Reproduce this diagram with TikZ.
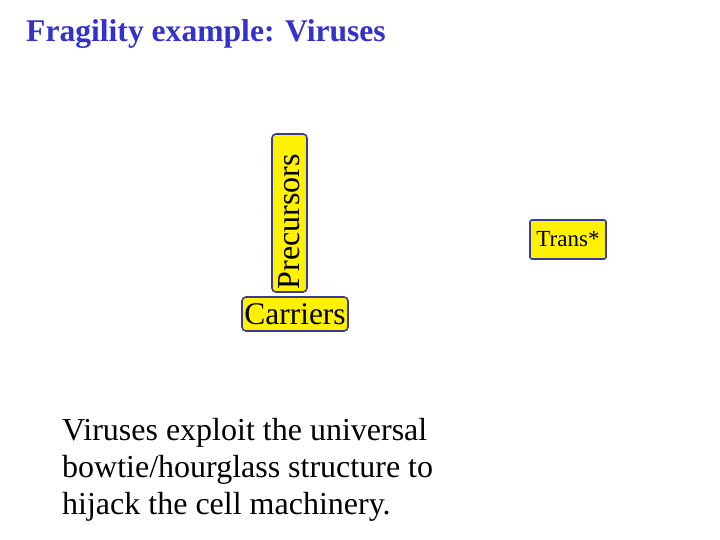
\documentclass[tikz,border=0pt]{standalone}
\usepackage{fontspec}
\setmainfont{Liberation Serif}
\definecolor{titleblue}{HTML}{3333CC}
\definecolor{boxline}{HTML}{3B3B8F}
\tikzset{
  ybox/.style={draw=boxline, line width=1.6pt, fill=yellow, rounded corners=4pt, inner sep=0pt},
}
\begin{document}
\begin{tikzpicture}[x=1pt,y=-1pt]
\useasboundingbox (0,0) rectangle (720,540);
\node[anchor=base west, inner sep=0pt, text=titleblue, font=\fontsize{31.6}{38}\selectfont\bfseries] (title) at (26,42) {Fragility example: Viruses};
\node[ybox, rotate=90, minimum width=158pt, minimum height=35pt, text width=152pt, align=left, inner xsep=3pt, font=\fontsize{32}{36}\selectfont] (prec) at (289.5,213) {Precursors};
\node[ybox, minimum width=106pt, minimum height=34pt, font=\fontsize{31.5}{36}\selectfont] (carr) at (295,314) {Carriers};
\node[ybox, rounded corners=2pt, minimum width=76pt, minimum height=39pt, font=\fontsize{23}{26}\selectfont] (trans) at (568,239.5) {Trans*};
\node[anchor=north west, inner sep=0pt, align=left, font=\fontsize{32}{37}\selectfont] (body) at (62,418) {Viruses exploit the universal\\bowtie/hourglass structure to\\hijack the cell machinery.};
\end{tikzpicture}
\end{document}
